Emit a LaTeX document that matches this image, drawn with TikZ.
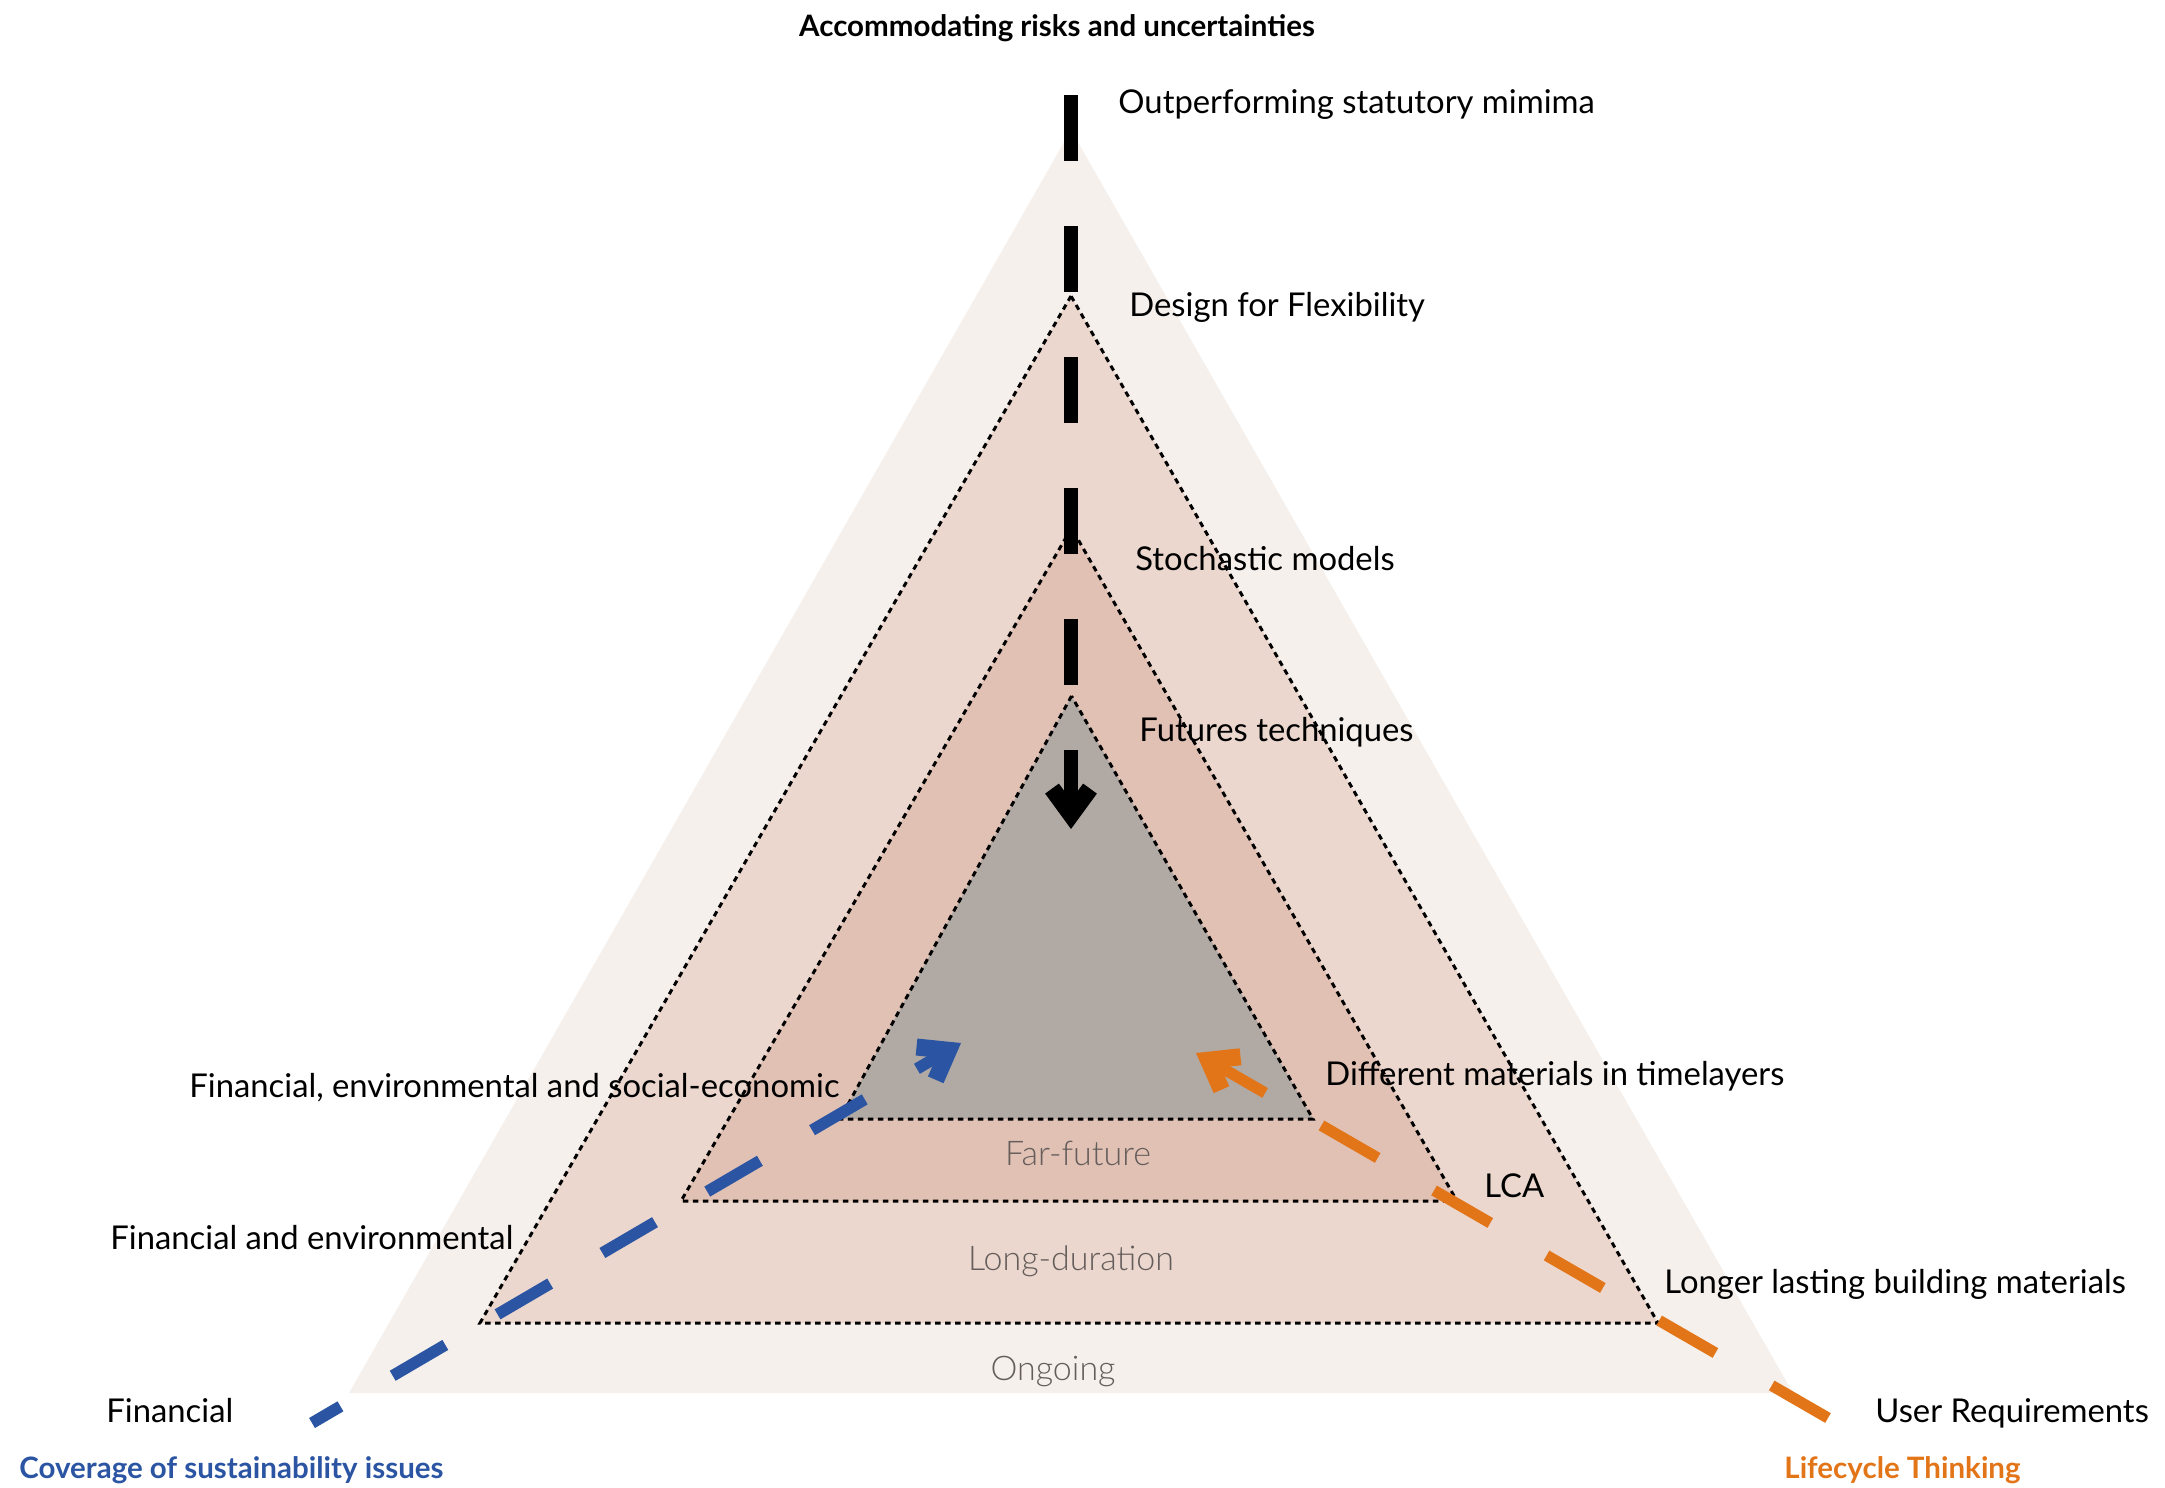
\documentclass[tikz,border=0pt]{standalone}
\usepackage{fontspec}
\setmainfont{Lato}
\newfontfamily\lightfont{Lato Light}
\usetikzlibrary{arrows.meta}
\definecolor{outerfill}{HTML}{F6F0EC}
\definecolor{secondfill}{HTML}{EBD7CE}
\definecolor{thirdfill}{HTML}{E1C1B4}
\definecolor{innerfill}{HTML}{B1A9A4}
\definecolor{cblue}{HTML}{2B55A3}
\definecolor{corange}{HTML}{E37519}
\definecolor{greytext}{HTML}{655D5B}
\begin{document}
\begin{tikzpicture}[x=0.5pt,y=-0.5pt,
  lbl/.style={inner sep=0pt, anchor=base west, font=\fontsize{16.4}{18}\selectfont},
  boldlbl/.style={inner sep=0pt, font=\bfseries\fontsize{14.75}{17}\selectfont},
  zonelbl/.style={inner sep=0pt, anchor=base, text=greytext, font=\lightfont\fontsize{17}{19}\selectfont},
  dottedtri/.style={draw=black, line width=1.5pt, dash pattern=on 2.75pt off 2.25pt},
  barb/.style={-{Straight Barb[sharp, length=13pt, width=19pt, line width=8.5pt]}},
  blackdash/.style={barb, draw=black, line width=6.65pt, dash pattern=on 33pt off 32.5pt},
  bluedash/.style={barb, draw=cblue, line width=5.8pt, dash pattern=on 30.5pt off 30.25pt, dash phase=14pt},
  orangedash/.style={barb, draw=corange, line width=5.6pt, dash pattern=on 32.5pt off 32.5pt}]
\useasboundingbox (0,0) rectangle (2165,1488);

% triangles
\fill[outerfill] (1071,130) -- (349,1393) -- (1793,1393) -- cycle;
\path[fill=secondfill, dottedtri] (1071,296) -- (480,1323) -- (1658,1323) -- cycle;
\path[fill=thirdfill, dottedtri] (1071.5,528) -- (681,1201) -- (1457,1201) -- cycle;
\path[fill=innerfill, dottedtri] (1071.5,696) -- (840,1119) -- (1313,1119) -- cycle;

% zone labels
\node[zonelbl] (farfuture) at (1078,1165) {Far-future};
\node[zonelbl] (longduration) at (1071,1270) {Long-duration};
\node[zonelbl] (ongoing) at (1053,1380) {Ongoing};

% connectors
\coordinate (kstart) at (1071,95);
\coordinate (ktip) at (1071,829);
\coordinate (bstart) at (312,1423);
\coordinate (btip) at (961,1043);
\coordinate (ostart) at (1828,1418);
\coordinate (otip) at (1196,1053);
\draw[blackdash] (kstart) -- (ktip);
\draw[bluedash] (bstart) -- (btip);
\draw[orangedash] (ostart) -- (otip);

% labels
\node[boldlbl, anchor=base] (title) at (1057,36) {Accommodating risks and uncertainties};
\node[lbl] (outperf) at (1118,113) {Outperforming statutory mimima};
\node[lbl] (flex) at (1129,316) {Design for Flexibility};
\node[lbl] (stoch) at (1135,570) {Stochastic models};
\node[lbl] (futures) at (1139,741) {Futures techniques};
\node[lbl] (diffmat) at (1325,1085) {Different materials in timelayers};
\node[lbl] (lca) at (1484,1197) {LCA};
\node[lbl] (longer) at (1664,1293) {Longer lasting building materials};
\node[lbl] (userreq) at (1875,1422) {User Requirements};
\node[lbl] (fin) at (106,1422) {Financial};
\node[lbl] (finenv) at (110,1249) {Financial and environmental};
\node[lbl] (finenvsoc) at (189,1097) {Financial, environmental and social-economic};
\node[boldlbl, anchor=base west, text=corange] (lifecycle) at (1784,1478) {Lifecycle Thinking};
\node[boldlbl, anchor=base west, text=cblue] (coverage) at (19,1478) {Coverage of sustainability issues};
\end{tikzpicture}
\end{document}
